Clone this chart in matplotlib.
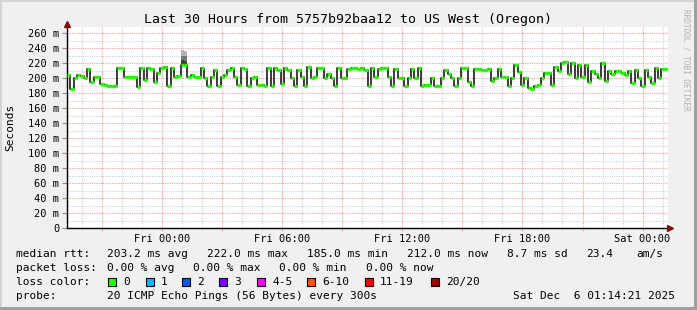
import matplotlib
matplotlib.use("Agg")
import matplotlib.pyplot as plt
import matplotlib.dates as mdates
from matplotlib.ticker import FuncFormatter
from matplotlib.patches import Rectangle
import pandas as pd

plt.rcParams['font.family'] = ['DejaVu Sans Mono', 'DejaVu Sans']

W, H = 697, 310

title = "Last 30 Hours from 5757b92baa12 to US West (Oregon)"
start = pd.Timestamp("2025-12-04 19:16")
hours = 30
step_min = 10

# median rtt (ms), one value per 10 minutes
median_ms = [
    204, 186, 200, 204, 203, 200, 212, 195, 202, 201, 192, 191, 190, 189, 189,
    213, 214, 202, 202, 202, 202, 188, 214, 197, 213, 212, 195, 207, 213, 215,
    189, 213, 202, 203, 218, 217, 202, 204, 202, 202, 213, 200, 189, 202, 211,
    189, 202, 204, 211, 213, 202, 191, 213, 212, 189, 200, 202, 191, 191, 190,
    214, 189, 213, 211, 192, 213, 211, 200, 189, 211, 202, 189, 215, 200, 202,
    213, 213, 200, 206, 200, 189, 213, 200, 200, 212, 213, 213, 212, 213, 211,
    190, 214, 202, 212, 213, 213, 202, 189, 212, 200, 200, 189, 200, 212, 200,
    213, 189, 191, 191, 200, 189, 190, 200, 211, 205, 200, 190, 200, 213, 213,
    195, 189, 212, 212, 211, 211, 212, 196, 200, 212, 202, 202, 189, 200, 218,
    208, 191, 200, 187, 185, 189, 191, 200, 207, 207, 191, 215, 209, 220, 222,
    205, 220, 200, 218, 201, 218, 195, 209, 205, 200, 220, 196, 209, 205, 209,
    209, 207, 204, 209, 194, 211, 200, 189, 211, 202, 193, 213, 200, 212, 212,
]

# the one visible burst of smoke (ping spread) shortly after Fri 00:00
smoke_idx = [34, 35]
smoke_levels = [[224, 230, 238], [223, 229, 236]]
smoke_colors = ['#404040', '#777777', '#b4b4b4']

loss_labels = ["0", "1", "2", "3", "4-5", "6-10", "11-19", "20/20"]
loss_colors = ['#26ff00', '#00b8ff', '#0059ff', '#7e00ff', '#ff00ff',
               '#ff5500', '#ff0000', '#a10000']
loss_box_x = [108, 146, 182, 219, 257, 307, 365, 431]

rtt_stats = [("median rtt:", 16), ("203.2 ms avg", 107), ("222.0 ms max", 207),
             ("185.0 ms min", 307), ("212.0 ms now", 407), ("8.7 ms sd", 507),
             ("23.4", 586), ("am/s", 636)]
loss_stats = [("packet loss:", 16), ("0.00 % avg", 107), ("0.00 % max", 193),
              ("0.00 % min", 279), ("0.00 % now", 366)]
probe_text = [("probe:", 16), ("20 ICMP Echo Pings (56 Bytes) every 300s", 107),
              ("Sat Dec  6 01:14:21 2025", 513)]


def fx(x):
    return x / W


def fy(y):
    return 1 - y / H


fig = plt.figure(figsize=(W / 100, H / 100), dpi=100)
fig.patch.set_facecolor('#f0f0f0')
ax = fig.add_axes([fx(67), fy(228), 601 / W, 201 / H])
ax.set_facecolor('white')

end = start + pd.Timedelta(hours=hours)
t = pd.date_range(start, periods=len(median_ms) + 1, freq=f'{step_min}min')
tn = mdates.date2num(t.to_pydatetime())
x0 = mdates.date2num(start.to_pydatetime())
x1 = mdates.date2num(end.to_pydatetime())
ax.set_xlim(x0, x1)
ax.set_ylim(0, 268)

# grid, rrdtool style dotted
red_grid = '#f2a0a0'
gray_grid = '#d4d4d4'
for v in range(10, 268, 10):
    ax.axhline(v, color=red_grid if v % 20 == 0 else gray_grid,
               lw=0.8, ls=(0, (1, 1)), zorder=0)
for h in pd.date_range(start.ceil('h'), end, freq='h'):
    ax.axvline(mdates.date2num(h.to_pydatetime()),
               color=red_grid if h.hour % 3 == 0 else gray_grid,
               lw=0.8, ls=(0, (1, 1)), zorder=0)

# smoke
for i, idx in enumerate(smoke_idx):
    lo = median_ms[idx]
    for lvl, c in zip(smoke_levels[i], smoke_colors):
        ax.fill_between([tn[idx], tn[idx + 1]], lo, lvl, color=c, lw=0, zorder=2)
        lo = lvl

ax.step(tn, median_ms + [median_ms[-1]], where='post', color='#1a1a1a',
        lw=1.2, zorder=3)
ax.hlines(median_ms, tn[:-1], tn[1:], colors=loss_colors[0], lw=2.4, zorder=4)

# axes
for s in ['top', 'right']:
    ax.spines[s].set_visible(False)
for s in ['left', 'bottom']:
    ax.spines[s].set_color('black')
    ax.spines[s].set_linewidth(1)

ax.set_yticks(range(0, 261, 20))
ax.set_yticklabels(['0' if v == 0 else f'{v} m' for v in range(0, 261, 20)])
ax.tick_params(axis='y', length=3.5, width=0.8, color='#909090', pad=2,
               labelsize=7.5)

ax.xaxis.set_major_locator(mdates.HourLocator(byhour=range(0, 24, 3)))
ax.xaxis.set_minor_locator(mdates.HourLocator())


def fmt(x, pos):
    d = mdates.num2date(x)
    return d.strftime('%a %H:%M') if d.hour % 6 == 0 else ''


ax.xaxis.set_major_formatter(FuncFormatter(fmt))
ax.tick_params(axis='x', which='major', length=2.5, width=0.8, color=red_grid,
               pad=1.5, labelsize=7.5)
ax.tick_params(axis='x', which='minor', length=1.5, width=0.8, color=gray_grid)

ax.plot(x0, 272, marker='^', color='#801010', ms=4.5, clip_on=False, zorder=5)
ax.plot(x1 + 0.004, 0, marker='>', color='#801010', ms=4.5, clip_on=False,
        zorder=5)

# texts
fig.text(0.5, fy(19.5), title, ha='center', va='center', fontsize=9.5)
fig.text(fx(10), fy(127.5), 'Seconds', rotation=90, ha='center', va='center',
         fontsize=8)
fig.text(fx(686), fy(60), 'RRDTOOL / TOBI OETIKER', rotation=-90, ha='center',
         va='center', fontsize=5.5, color='#b0b0b0')

for txt, x in rtt_stats:
    fig.text(fx(x), fy(254), txt, ha='left', va='center', fontsize=8)
for txt, x in loss_stats:
    fig.text(fx(x), fy(268), txt, ha='left', va='center', fontsize=8)
fig.text(fx(16), fy(282), 'loss color:', ha='left', va='center', fontsize=8)
for lab, c, bx in zip(loss_labels, loss_colors, loss_box_x):
    fig.add_artist(Rectangle((fx(bx), fy(286)), 8 / W, 8 / H, facecolor=c,
                             edgecolor='black', lw=0.8,
                             transform=fig.transFigure))
    fig.text(fx(bx + 15), fy(282), lab, ha='left', va='center', fontsize=8)
for txt, x in probe_text:
    fig.text(fx(x), fy(296), txt, ha='left', va='center', fontsize=8)

# 3d frame
fig.add_artist(Rectangle((0, 1 - 2 / H), 1, 2 / H, color='#d4d4d4', lw=0,
                         transform=fig.transFigure))
fig.add_artist(Rectangle((0, 0), 2 / W, 1, color='#d4d4d4', lw=0,
                         transform=fig.transFigure))
fig.add_artist(Rectangle((0, 0), 1, 3 / H, color='#a0a0a0', lw=0,
                         transform=fig.transFigure))
fig.add_artist(Rectangle((1 - 3 / W, 0), 3 / W, 1, color='#a0a0a0', lw=0,
                         transform=fig.transFigure))

fig.savefig('out.png', dpi=100, facecolor=fig.get_facecolor())
